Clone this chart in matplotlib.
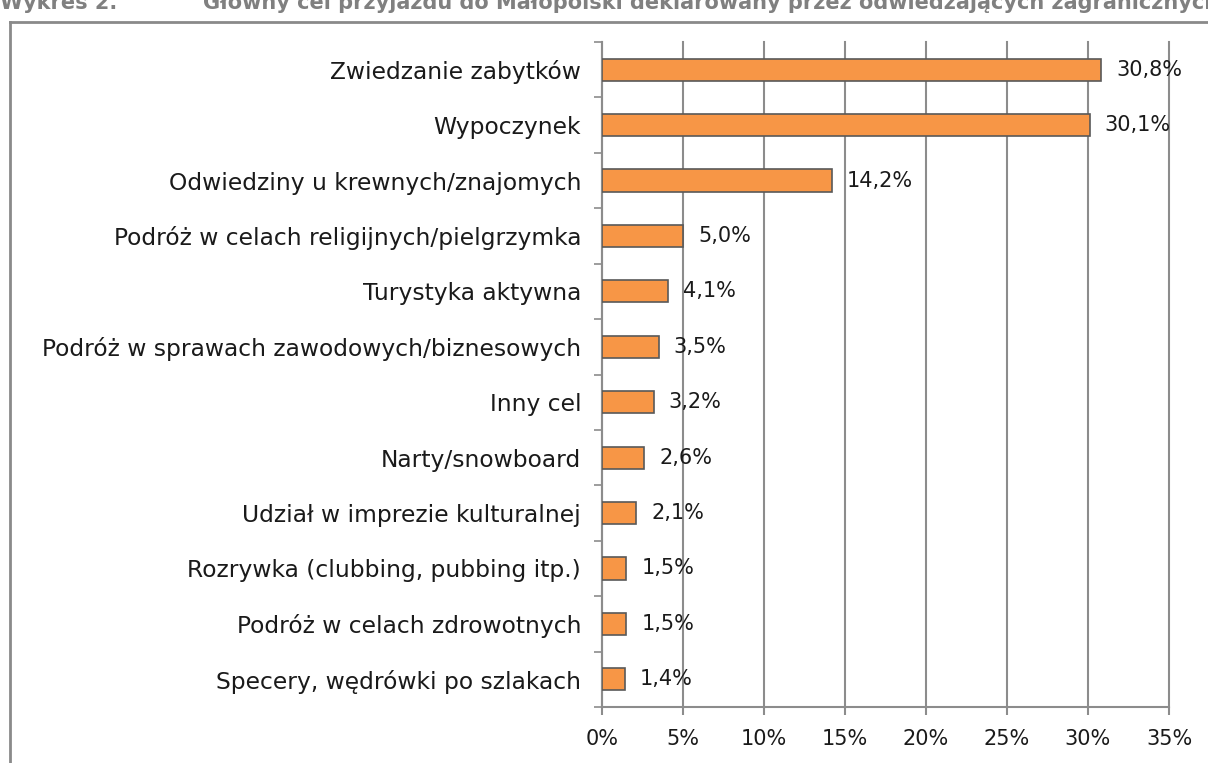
import matplotlib
matplotlib.use("Agg")
import matplotlib.pyplot as plt
from matplotlib.ticker import FuncFormatter
from matplotlib.transforms import offset_copy
from matplotlib.lines import Line2D

categories = [
    "Zwiedzanie zabytków",
    "Wypoczynek",
    "Odwiedziny u krewnych/znajomych",
    "Podróż w celach religijnych/pielgrzymka",
    "Turystyka aktywna",
    "Podróż w sprawach zawodowych/biznesowych",
    "Inny cel",
    "Narty/snowboard",
    "Udział w imprezie kulturalnej",
    "Rozrywka (clubbing, pubbing itp.)",
    "Podróż w celach zdrowotnych",
    "Specery, wędrówki po szlakach",
]
values = [30.8, 30.1, 14.2, 5.0, 4.1, 3.5, 3.2, 2.6, 2.1, 1.5, 1.5, 1.4]
value_labels = ["30,8%", "30,1%", "14,2%", "5,0%", "4,1%", "3,5%", "3,2%",
                "2,6%", "2,1%", "1,5%", "1,5%", "1,4%"]
x_ticks = [0, 5, 10, 15, 20, 25, 30, 35]

title_left = "Wykres 2."
title_main = "Główny cel przyjazdu do Małopolski deklarowany przez odwiedzających zagranicznych"

plt.rcParams['font.family'] = ['DejaVu Sans']
TEXT = '#1a1a1a'
GRID = '#8c8c8c'

W, H = 1208, 763
fig = plt.figure(figsize=(W / 100, H / 100), dpi=100)

ax = fig.add_axes([602 / W, 1 - 707 / H, (1169 - 602) / W, (707 - 42) / H])

n = len(categories)
ypos = list(range(n))
ax.barh(ypos, values, height=0.4, color='#F79646', edgecolor='#595959',
        linewidth=1.2, zorder=3)
ax.set_ylim(n - 0.5, -0.5)
ax.set_xlim(0, 35)

ax.set_xticks(x_ticks)
ax.xaxis.set_major_formatter(FuncFormatter(lambda v, p: f"{int(v)}%"))
ax.set_yticks(ypos)
ax.set_yticklabels(categories)
ax.set_yticks([i - 0.5 for i in range(n + 1)], minor=True)

ax.tick_params(axis='y', which='major', length=0, pad=15, labelsize=16.8,
               labelcolor=TEXT)
ax.tick_params(axis='y', which='minor', length=6, width=1.2, color=GRID)
ax.tick_params(axis='x', which='major', length=6, width=1.5, color=GRID,
               pad=10, labelsize=15, labelcolor=TEXT)

ax.grid(axis='x', color=GRID, linewidth=1.5, zorder=0)
for gl in ax.get_xgridlines():
    gl.set_clip_on(False)
for s in ['top', 'right']:
    ax.spines[s].set_visible(False)
for s in ['left', 'bottom']:
    ax.spines[s].set_color(GRID)
    ax.spines[s].set_linewidth(1.5)

for y, v, lab in zip(ypos, values, value_labels):
    tr = offset_copy(ax.transData, fig=fig, x=15, y=0, units='dots')
    ax.text(v, y, lab, transform=tr, va='center', ha='left', fontsize=15,
            color=TEXT, zorder=4)

# outer frame (left and top edges)
fig.add_artist(Line2D([10 / W, 10 / W], [0, 1 - 22 / H], color='#8a8a8a',
                      linewidth=2, transform=fig.transFigure))
fig.add_artist(Line2D([10 / W, 1], [1 - 22 / H, 1 - 22 / H], color='#8a8a8a',
                      linewidth=2, transform=fig.transFigure))

# heading, clipped by the top edge
fig.text(0 / W, 1 - 9 / H, title_left, fontsize=15, fontweight='bold',
         color='#808080', va='baseline', ha='left')
fig.text(203 / W, 1 - 9 / H, title_main, fontsize=15, fontweight='bold',
         color='#808080', va='baseline', ha='left')

fig.savefig('out.png', dpi=100)
